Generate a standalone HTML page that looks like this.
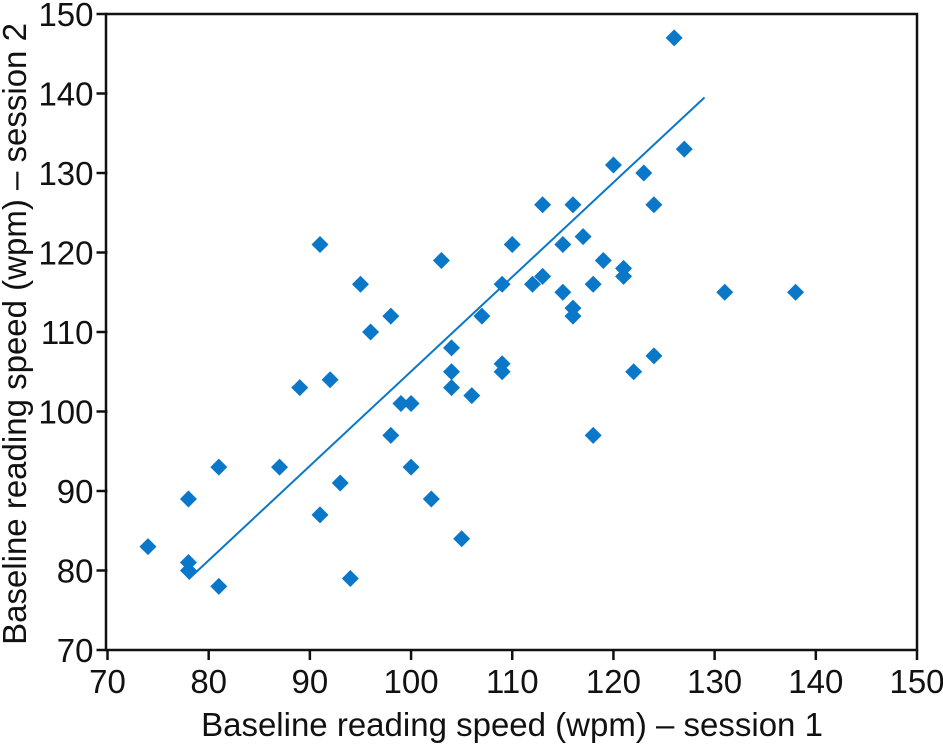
<!DOCTYPE html>
<html><head><meta charset="utf-8"><style>
html,body{margin:0;padding:0;background:#fff;}
svg{display:block;font-family:"Liberation Sans",Arial,sans-serif;}
</style></head><body>
<svg id="chart" width="943" height="746" viewBox="0 0 943 746" xmlns="http://www.w3.org/2000/svg"></svg>
<script>
const xTicks=[70,80,90,100,110,120,130,140,150];
const yTicks=[70,80,90,100,110,120,130,140,150];
const xVals=[74,78,78,78,81,81,87,89,91,91,92,93,94,95,96,98,98,99,100,100,102,103,104,104,104,105,106,107,109,109,109,110,112,113,113,115,115,116,116,116,117,118,118,119,120,121,121,122,123,124,124,126,127,131,138];
const yVals=[83,89,81,80,93,78,93,103,121,87,104,91,79,116,110,112,97,101,101,93,89,119,108,105,103,84,102,112,116,106,105,121,116,126,117,121,115,126,113,112,122,116,97,119,131,118,117,105,130,126,107,147,133,115,115];
const fitX=[78,129];
const fitY=[78.9,139.5];

const NS="http://www.w3.org/2000/svg";
const svg=document.getElementById('chart');
const L=107.5,R=917,T=14,B=650;
const sx=v=>L+(v-70)*(R-L)/80;
const sy=v=>B-(v-70)*(B-T)/80;
function mk(tag,attrs,parent){const e=document.createElementNS(NS,tag);for(const k in attrs)e.setAttribute(k,attrs[k]);(parent||svg).appendChild(e);return e;}

const frame=mk('rect',{x:L-1.5,y:T,width:R-L+1.5,height:B-T,fill:'none',stroke:'#111','stroke-width':2.5});



xTicks.forEach(t=>{
  const x=sx(t);
  const tk=mk('line',{x1:x,y1:B,x2:x,y2:B+10,stroke:'#111','stroke-width':2.5});
  
  
  const lb=mk('text',{x:x,y:B+43,'text-anchor':'middle','font-size':33,fill:'#111'});
  lb.textContent=t;
  
  
});
yTicks.forEach(t=>{
  const y=sy(t);
  const tk=mk('line',{x1:L-11,y1:y,x2:L,y2:y,stroke:'#111','stroke-width':2.5});
  
  
  const lb=mk('text',{x:L-14,y:y+12,'text-anchor':'end','font-size':33,fill:'#111'});
  lb.textContent=t;
  
  
});

const xt=mk('text',{x:512,y:736,'text-anchor':'middle','font-size':33,fill:'#111'});
xt.textContent='Baseline reading speed (wpm) – session 1';


const yt=mk('text',{x:0,y:0,'text-anchor':'middle','font-size':33,fill:'#111',transform:'translate(26,'+((T+B)/2+2)+') rotate(-90)'});
yt.textContent='Baseline reading speed (wpm) – session 2';



const fit=mk('line',{x1:sx(fitX[0]),y1:sy(fitY[0]),x2:sx(fitX[1]),y2:sy(fitY[1]),stroke:'#0a77c9','stroke-width':2});



const s=8.5;
xVals.forEach((v,i)=>{
  const cx=sx(v),cy=sy(yVals[i]);
  const p=mk('polygon',{points:`${cx},${cy-s} ${cx+s},${cy} ${cx},${cy+s} ${cx-s},${cy}`,fill:'#0a77c9'});
  
  
});
</script>
</body></html>
